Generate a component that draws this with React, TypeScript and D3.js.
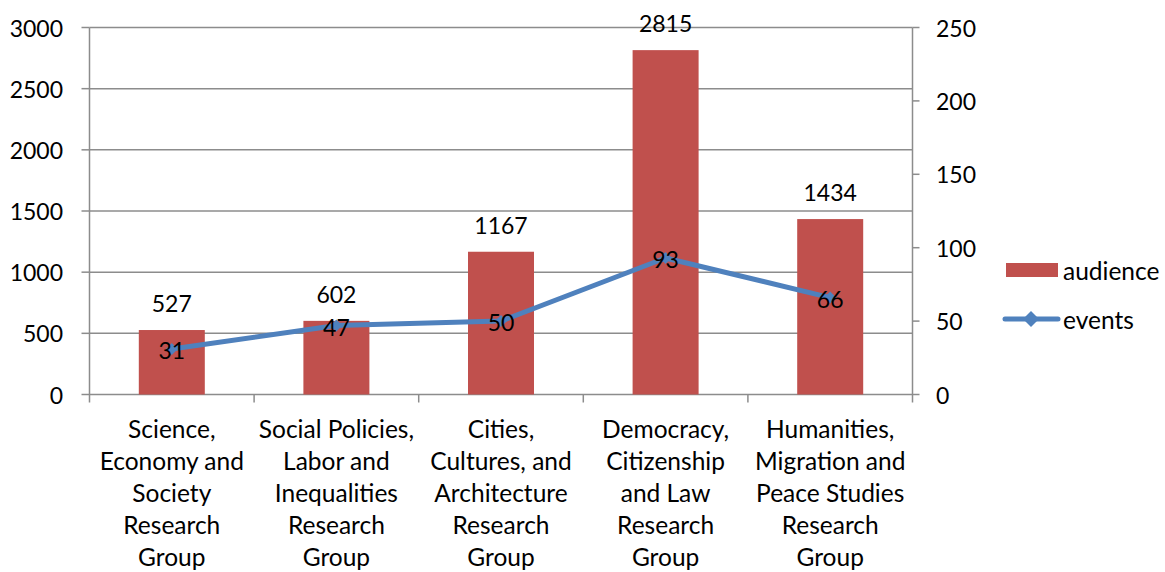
import React from "react";
import * as d3 from "d3";

const categories = [
  ["Science,", "Economy and", "Society", "Research", "Group"],
  ["Social Policies,", "Labor and", "Inequalities", "Research", "Group"],
  ["Cities,", "Cultures, and", "Architecture", "Research", "Group"],
  ["Democracy,", "Citizenship", "and Law", "Research", "Group"],
  ["Humanities,", "Migration and", "Peace Studies", "Research", "Group"],
];
const audience = [527, 602, 1167, 2815, 1434];
const events = [31, 47, 50, 93, 66];
const leftTicks = [0, 500, 1000, 1500, 2000, 2500, 3000];
const rightTicks = [0, 50, 100, 150, 200, 250];

const W = 1165;
const H = 572;
const X0 = 89.5;
const X1 = 912.5;
const Y0 = 394.5;
const Y1 = 27.5;
const FONT = "Lato, 'Open Sans', sans-serif";
const FS = 23;
const FT = 24.5;
const BAR = "#C0504D";
const LINE = "#4F81BD";
const GRID = "#8C8C8C";

export default function App() {
  const idx = categories.map((_, i) => i);
  const x = d3.scaleBand<number>().domain(idx).range([X0, X1]).paddingInner(0).paddingOuter(0);
  const yL = d3.scaleLinear().domain([0, 3000]).range([Y0, Y1]);
  const yR = d3.scaleLinear().domain([0, 250]).range([Y0, Y1]);
  const bw = 66;
  const cx = (i: number) => (x(i) as number) + x.bandwidth() / 2;
  const line = d3
    .line<number>()
    .x((_, i) => cx(i))
    .y((d) => yR(d));
  const diamond = (px: number, py: number, r: number) =>
    `M${px},${py - r}L${px + r},${py}L${px},${py + r}L${px - r},${py}Z`;

  return (
    <svg
      width={W}
      height={H}
      style={{ position: "absolute", left: 0, top: 0, background: "#fff" }}
      fontFamily={FONT}
    >
      {leftTicks.map((t) => (
        <g key={"g" + t}>
          <line x1={X0} x2={X1} y1={yL(t)} y2={yL(t)} stroke={GRID} strokeWidth={1.5} />
          <line x1={X0 - 8} x2={X0} y1={yL(t)} y2={yL(t)} stroke={GRID} strokeWidth={1.5} />
          <text x={63} y={yL(t)} textAnchor="end" dominantBaseline="central" fontSize={FS} fill="#000">
            {t}
          </text>
        </g>
      ))}
      {rightTicks.map((t) => (
        <g key={"r" + t}>
          <line x1={X1} x2={X1 + 7} y1={yR(t)} y2={yR(t)} stroke={GRID} strokeWidth={1.5} />
          <text x={936} y={yR(t)} textAnchor="start" dominantBaseline="central" fontSize={FS} fill="#000">
            {t}
          </text>
        </g>
      ))}
      <line x1={X0} x2={X0} y1={Y1} y2={Y0 + 8} stroke={GRID} strokeWidth={1.5} />
      <line x1={X1} x2={X1} y1={Y1} y2={Y0 + 8} stroke={GRID} strokeWidth={1.5} />
      {idx.slice(1).map((i) => (
        <line
          key={"ct" + i}
          x1={x(i) as number}
          x2={x(i) as number}
          y1={Y0}
          y2={Y0 + 8}
          stroke={GRID}
          strokeWidth={1.5}
        />
      ))}
      {audience.map((v, i) => (
        <rect key={"b" + i} x={cx(i) - bw / 2} y={yL(v)} width={bw} height={Y0 - yL(v)} fill={BAR} />
      ))}
      {audience.map((v, i) => (
        <text key={"bl" + i} x={cx(i)} y={yL(v) - 18} textAnchor="middle" fontSize={FS} fill="#000">
          {v}
        </text>
      ))}
      <path d={line(events) || ""} fill="none" stroke={LINE} strokeWidth={5} strokeLinejoin="round" strokeLinecap="round" />
      {events.map((v, i) => (
        <path key={"d" + i} d={diamond(cx(i), yR(v), 6)} fill={LINE} />
      ))}
      {events.map((v, i) => (
        <text
          key={"el" + i}
          x={cx(i)}
          y={yR(v) + 1}
          textAnchor="middle"
          dominantBaseline="central"
          fontSize={FS}
          fill="#000"
        >
          {v}
        </text>
      ))}
      {categories.map((lines, i) => (
        <text key={"c" + i} textAnchor="middle" fontSize={FT} fill="#000">
          {lines.map((l, j) => (
            <tspan key={j} x={cx(i)} y={438 + j * 32}>
              {l}
            </tspan>
          ))}
        </text>
      ))}
      <rect x={1006} y={263} width={52} height={14} fill={BAR} />
      <text x={1063} y={270} dominantBaseline="central" fontSize={FT} fill="#000">
        audience
      </text>
      <line x1={1005} x2={1058} y1={319} y2={319} stroke={LINE} strokeWidth={5} strokeLinecap="round" />
      <path d={diamond(1031, 319, 8)} fill={LINE} />
      <text x={1063} y={319} dominantBaseline="central" fontSize={FT} fill="#000">
        events
      </text>
    </svg>
  );
}
